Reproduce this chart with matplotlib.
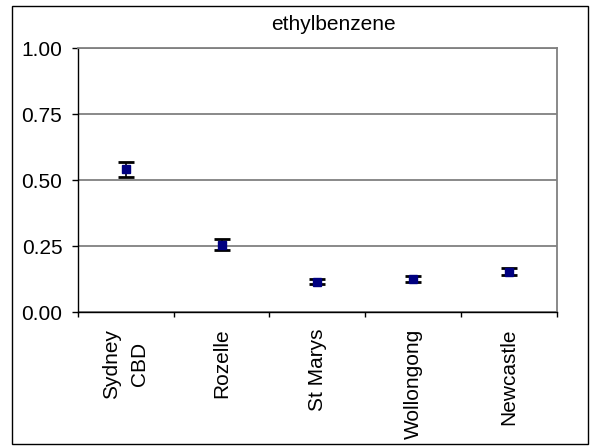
#!/usr/bin/env python3
import matplotlib
matplotlib.use("Agg")
import matplotlib.pyplot as plt
from matplotlib.patches import Rectangle

sites = ["Sydney\nCBD", "Rozelle", "St Marys", "Wollongong", "Newcastle"]
mean_conc = [0.54, 0.255, 0.115, 0.125, 0.152]
conc_err = [0.03, 0.02, 0.009, 0.013, 0.013]
y_ticks = [0.0, 0.25, 0.5, 0.75, 1.0]


def main():
    plt.rcParams['font.family'] = ['Liberation Sans', 'DejaVu Sans']

    fig = plt.figure(figsize=(5.9, 4.47), dpi=100)
    W, H = 590, 447

    # black frame round the whole chart
    fig.patches.append(Rectangle((12 / W, 1 - 444 / H), 576 / W, 438 / H,
                                 transform=fig.transFigure, fill=False,
                                 edgecolor='black', linewidth=1.0))

    ax = fig.add_axes([78 / W, 1 - 312 / H, (556.5 - 78) / W, (312 - 48) / H])

    x = list(range(len(sites)))
    ax.errorbar(x, mean_conc, yerr=conc_err, fmt='none', ecolor='black',
                elinewidth=1.2, capsize=5.8, capthick=2.0, zorder=3)
    ax.plot(x, mean_conc, 's', color='#000080', markersize=5.2, zorder=4)

    ax.set_xlim(-0.5, len(sites) - 0.5)
    ax.set_ylim(0, 1)
    ax.set_yticks(y_ticks)
    ax.set_yticklabels([f"{v:.2f}" for v in y_ticks], fontsize=15)

    # category boundaries as ticks, labels between them
    ax.set_xticks([i - 0.5 for i in range(len(sites) + 1)])
    ax.set_xticklabels([])
    ax.set_xticks(x, minor=True)
    ax.set_xticklabels(sites, minor=True, rotation=90, fontsize=15,
                       ha='center', va='top', linespacing=1.6)
    ax.tick_params(axis='x', which='major', length=3.6, width=1, direction='out')
    ax.tick_params(axis='x', which='minor', length=0, pad=12)
    ax.tick_params(axis='y', length=4.3, width=1, direction='out', pad=7)

    ax.grid(axis='y', color='#808080', linewidth=1.3)
    ax.set_axisbelow(True)
    for side in ['top', 'right']:
        ax.spines[side].set_color('#808080')
        ax.spines[side].set_linewidth(1.3)
    for side in ['left', 'bottom']:
        ax.spines[side].set_color('black')
        ax.spines[side].set_linewidth(1.0)

    fig.text(333 / W, 1 - 25 / H, "ethylbenzene", ha='center', va='center',
             fontsize=15)

    fig.savefig("out.png", dpi=100)


if __name__ == '__main__':
    main()
